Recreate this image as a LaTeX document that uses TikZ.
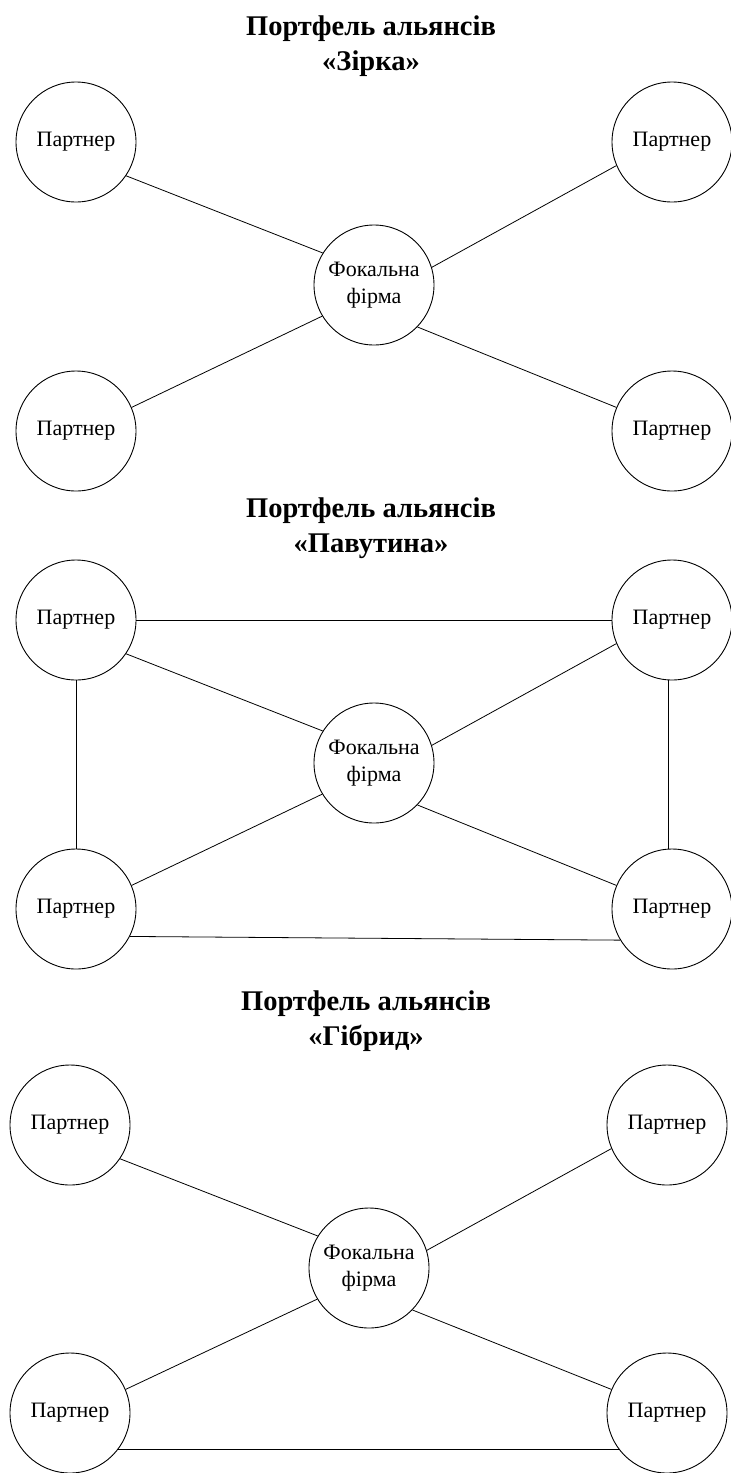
\documentclass[tikz,border=0pt]{standalone}
\usepackage{fontspec}
\setmainfont{Liberation Serif}
\begin{document}
\begin{tikzpicture}[x=1pt,y=-1pt,
  party/.style={circle,draw,line width=0.9pt,minimum size=120pt,inner sep=0pt,font=\fontsize{22}{27}\selectfont,align=center},
  ttl/.style={font=\bfseries\fontsize{28.5}{35}\selectfont,align=center},
  link/.style={line width=0.8pt}]
\useasboundingbox (0,0) rectangle (731,1473);
% ---- Section 1
\node[ttl] (t1) at (371,46) {Портфель альянсів\\«Зірка»};
\node[party] (a1) at (76,142) {Партнер};
\node[party] (b1) at (672,142) {Партнер};
\node[party] (f1) at (374,285) {Фокальна\\фірма};
\node[party] (c1) at (76,431) {Партнер};
\node[party] (d1) at (672,431) {Партнер};
\draw[link] (a1.-34) -- (f1.148);
\draw[link] (b1.203) -- (f1.17);
\draw[link] (c1.23) -- (f1.211);
\draw[link] (d1.157) -- (f1.-44);
% ---- Section 2
\node[ttl] (t2) at (371,528) {Портфель альянсів\\«Павутина»};
\node[party] (a2) at (76,620) {Партнер};
\node[party] (b2) at (672,620) {Партнер};
\node[party] (f2) at (374,763) {Фокальна\\фірма};
\node[party] (c2) at (76,909) {Партнер};
\node[party] (d2) at (672,909) {Партнер};
\draw[link] (a2.-34) -- (f2.148);
\draw[link] (b2.203) -- (f2.17);
\draw[link] (c2.23) -- (f2.211);
\draw[link] (d2.157) -- (f2.-44);
\draw[link] (a2.0) -- (b2.180);
\draw[link] (a2.-90) -- (c2.90);
\draw[link] (b2.-93) -- (d2.93);
\draw[link] (c2.-27) -- (d2.211);
% ---- Section 3
\node[ttl] (t3) at (366,1021) {Портфель альянсів\\«Гібрид»};
\node[party] (a3) at (70,1125) {Партнер};
\node[party] (b3) at (667,1125) {Партнер};
\node[party] (f3) at (369,1268) {Фокальна\\фірма};
\node[party] (c3) at (70,1413) {Партнер};
\node[party] (d3) at (667,1413) {Партнер};
\draw[link] (a3.-34) -- (f3.148);
\draw[link] (b3.203) -- (f3.17);
\draw[link] (c3.23) -- (f3.211);
\draw[link] (d3.157) -- (f3.-44);
\draw[link] (c3.-37) -- (d3.217);
\end{tikzpicture}
\end{document}
